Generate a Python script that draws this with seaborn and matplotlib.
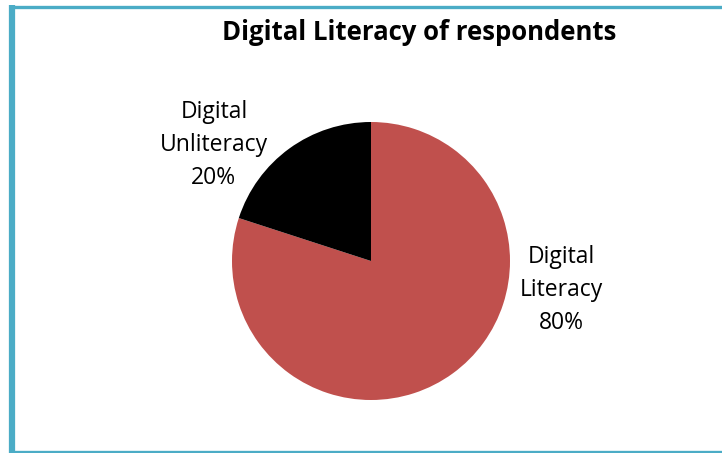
import matplotlib
matplotlib.use("Agg")
import matplotlib.pyplot as plt
import seaborn as sns
from matplotlib.lines import Line2D

categories = ["Digital Literacy", "Digital Unliteracy"]
label_lines = ["Digital\nLiteracy", "Digital\nUnliteracy"]
values = [80, 20]
colors = ["#C0504D", "#000000"]
title = "Digital Literacy of respondents"

sns.set_theme(style="white")
plt.rcParams['font.family'] = ['Open Sans', 'DejaVu Sans']

W, H = 722, 453
fig = plt.figure(figsize=(W / 100, H / 100), dpi=100)
fig.patch.set_facecolor("white")

cx, cy, r = 371, 261, 139
ax = fig.add_axes([(cx - r) / W, (H - cy - r) / H, 2 * r / W, 2 * r / H])
wedges, _ = ax.pie(values, colors=colors, startangle=90, counterclock=False,
                   radius=1.0, wedgeprops=dict(linewidth=0))
ax.set_xlim(-1, 1)
ax.set_ylim(-1, 1)
ax.set_aspect("equal")
ax.axis("off")

total = sum(values)
pos = [(1.367, -0.21), (-1.13, 0.835)]
for (x, y), lab, v in zip(pos, label_lines, values):
    ax.text(x, y, f"{lab}\n{round(100 * v / total)}%", ha="center", va="center",
            fontsize=16.5, color="#000000", linespacing=1.5, clip_on=False)

fig.text(419 / W, 1 - 33 / H, title, ha="center", va="center",
         fontsize=18.5, fontweight="bold", color="#000000")

bc = "#4BACC6"
fig.add_artist(Line2D([12 / W, 12 / W], [1 - 5 / H, 0], color=bc, lw=4.5,
                      transform=fig.transFigure, solid_capstyle="butt"))
fig.add_artist(Line2D([9 / W, 1], [1 - 6.5 / H, 1 - 6.5 / H], color=bc, lw=2.4,
                      transform=fig.transFigure, solid_capstyle="butt"))
fig.add_artist(Line2D([9 / W, 1], [1.3 / H, 1.3 / H], color=bc, lw=2.4,
                      transform=fig.transFigure, solid_capstyle="butt"))

fig.savefig("out.png", dpi=100, facecolor="white")
